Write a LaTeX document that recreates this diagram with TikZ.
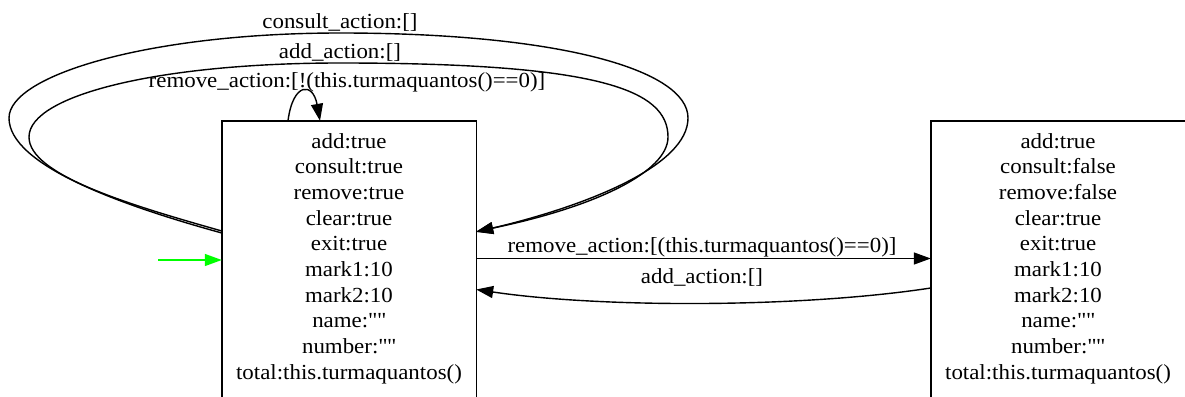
\documentclass[tikz,border=0pt]{standalone}
\usepackage{fontspec}
\setmainfont{Liberation Serif}[FakeStretch=1.065]
\usetikzlibrary{arrows.meta}
\definecolor{gvgreen}{RGB}{0,255,0}
\newcommand{\qq}{\textquotedbl\textquotedbl}
\begin{document}
\begin{tikzpicture}[x=1pt,y=-1pt,
  txt/.style={font={\fontsize{21.5}{25.7}\selectfont}},
  state/.style={txt,minimum width=254pt,minimum height=275pt,inner sep=0pt,align=center},
  box/.style={draw,line width=1.4pt},
  lbl/.style={txt,inner sep=0pt},
  edge/.style={line width=1.4pt,-{Triangle[length=17pt,width=12pt]}},
  initedge/.style={line width=1.4pt,draw=gvgreen,-{Triangle[length=17pt,width=12pt,fill=gvgreen]}}]
\useasboundingbox (0,0) rectangle (1185,396);

\node[state] (L) at (349,258.5) {add:true\\consult:true\\remove:true\\clear:true\\exit:true\\mark1:10\\mark2:10\\name:\qq\\number:\qq\\total:this.turmaquantos()};
\node[state] (R) at (1058,258.5) {add:true\\consult:false\\remove:false\\clear:true\\exit:true\\mark1:10\\mark2:10\\name:\qq\\number:\qq\\total:this.turmaquantos()};
\draw[box] (L.north west) rectangle ([yshift=-12pt]L.south east);
\draw[box] (R.north west) rectangle ([xshift=12pt,yshift=-12pt]R.south east);

% initial arrow
\coordinate (g) at (158,260);
\draw[initedge] (g) -- ([yshift=-1.5pt]L.west);

% big self loops
\draw[edge] ([yshift=25.5pt]L.west) .. controls (120,205) and (9,165) .. (9,118)
  .. controls (9,75) and (150,33) .. (340,33)
  .. controls (560,33) and (688,70) .. (688,118)
  .. controls (688,165) and (590,205) .. ([yshift=26.5pt]L.east);
\draw[edge] ([yshift=27.5pt]L.west) .. controls (130,205) and (29,175) .. (29,137)
  .. controls (29,95) and (160,63) .. (340,63)
  .. controls (600,63) and (668,90) .. (668,137)
  .. controls (668,172) and (595,207) .. ([yshift=27pt]L.east);
% small self loop
\draw[edge] ([xshift=-61pt]L.north) .. controls (293,82) and (313,82) .. ([xshift=-29pt]L.north);

% edges between states
\draw[edge] (L.east) -- (R.west);
\draw[edge] ([yshift=-29.5pt]R.west) .. controls (800,308) and (600,308) .. ([yshift=-31pt]L.east);

% labels
\node[lbl] (lc) at (340,22) {consult\_action:[]};
\node[lbl] (la) at (340,52) {add\_action:[]};
\node[lbl] (lr) at (347,82) {remove\_action:[!(this.turmaquantos()==0)]};
\node[lbl] (lrs) at (702,247) {remove\_action:[(this.turmaquantos()==0)]};
\node[lbl] (lab) at (702,277) {add\_action:[]};
\end{tikzpicture}
\end{document}
